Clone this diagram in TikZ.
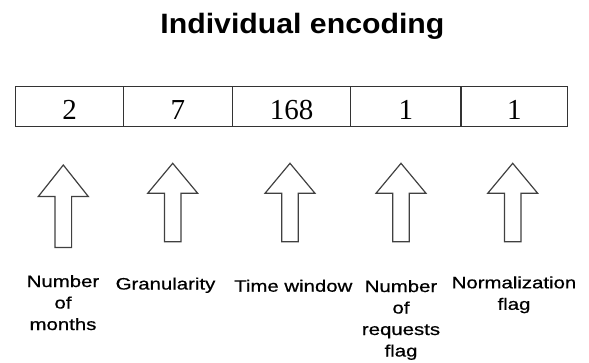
\documentclass[tikz,border=0pt]{standalone}
\usepackage{fontspec}
\usepackage{graphicx}
\setmainfont{Liberation Sans}
\newfontfamily\cellfont{Liberation Serif}
\newfontfamily\lblfont{Liberation Sans}[FakeBold=0.6]

\tikzset{
  cellbox/.style={draw=black!80, line width=1.5pt, minimum height=40pt,
    inner sep=0pt, text height=25pt, text depth=0pt,
    font=\cellfont\fontsize{29}{34}\selectfont},
  lbl/.style={anchor=base, inner sep=0pt, font=\lblfont\fontsize{16.5}{21.5}\selectfont},
  arrowline/.style={draw=black!75, line width=1.2pt, line join=miter, fill=white},
  % hollow block arrow pointing up: #1 = head length, #2 = total length
  pics/hollowarrow/.style 2 args={code={
    \draw[arrowline] (0,0) -- (25,#1) -- (8.3,#1) -- (8.3,#2)
      -- (-8.3,#2) -- (-8.3,#1) -- (-25,#1) -- cycle;
  }}
}

\begin{document}
\begin{tikzpicture}[x=1pt, y=-1pt]
\useasboundingbox (0,0) rectangle (589,362);

% title
\node[anchor=base, inner sep=0pt, font=\bfseries\fontsize{28}{34}\selectfont]
  (title) at (302.4,33.3) {\scalebox{1.08}[1]{Individual encoding}};

% encoding cells
\node[cellbox, minimum width=107.6pt] (c1) at (69.5,106.7) {2};
\node[cellbox, minimum width=109pt]   (c2) at (177.8,106.7) {7};
\node[cellbox, minimum width=118.4pt] (c3) at (291.5,106.7) {168};
\node[cellbox, minimum width=110.3pt] (c4) at (405.85,106.7) {1};
\node[cellbox, minimum width=106.7pt] (c5) at (514.35,106.7) {1};

% arrows under the cells
\pic (a1) at (63.3,165)   {hollowarrow={31.5}{82.5}};
\pic (a2) at (172.7,163.3) {hollowarrow={30}{78.4}};
\pic (a3) at (290,163.3)   {hollowarrow={30}{78.4}};
\pic (a4) at (401,163.3)   {hollowarrow={30}{78.4}};
\pic (a5) at (512.7,163.3) {hollowarrow={30}{78.4}};

% field labels
\node[lbl] (l1) at (63,287) {\scalebox{1.235}[1]{\begin{tabular}[t]{@{}c@{}}Number\\of\\months\end{tabular}}};
\node[lbl] (l2) at (165.5,289.5) {\scalebox{1.235}[1]{Granularity}};
\node[lbl] (l3) at (293.3,291.7) {\scalebox{1.235}[1]{Time window}};
\node[lbl] (l4) at (401,292) {\scalebox{1.235}[1]{\begin{tabular}[t]{@{}c@{}}Number\\of\\requests\\flag\end{tabular}}};
\node[lbl] (l5) at (514,288.3) {\scalebox{1.235}[1]{\begin{tabular}[t]{@{}c@{}}Normalization\\flag\end{tabular}}};
\end{tikzpicture}
\end{document}
